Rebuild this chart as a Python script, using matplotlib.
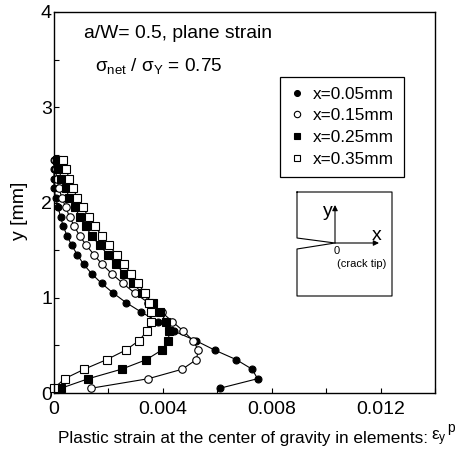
import matplotlib
matplotlib.use('Agg')
import matplotlib.pyplot as plt

plt.rcParams['font.family'] = ['Liberation Sans', 'DejaVu Sans']
plt.rcParams['mathtext.fontset'] = 'custom'
plt.rcParams['mathtext.rm'] = 'Liberation Sans'
plt.rcParams['mathtext.it'] = 'Liberation Sans'

y_levels = [0.05, 0.15, 0.25, 0.35, 0.45, 0.55, 0.65, 0.75, 0.85, 0.95, 1.05, 1.15, 1.25,
            1.35, 1.45, 1.55, 1.65, 1.75, 1.85, 1.95, 2.05, 2.15, 2.25, 2.35, 2.45]
x005 = [.00609, .00747, .00727, .00669, .0059, .0052, .0044, .0038, .0032, .00264, .00217, .00175,
        .00139, .00109, .00086, .00065, .00048, .00034, .00024, .00015, .00006, 0.0, 0.0, 0.0, 0.0]
x015 = [.00136, .00346, .00471, .00522, .0053, .0051, .00475, .00434, .00395, .00345, .00296, .00253,
        .00213, .00177, .00147, .00119, .00094, .00075, .00057, .00043, .00029, .00018, .0001, .00006, .00003]
x025 = [.00026, .00126, .00248, .00339, .00395, .0042, .00423, .00412, .00389, .00365, .00322, .00291,
        .00258, .00228, .00198, .00168, .00138, .00116, .00095, .00076, .00056, .00043, .00027, .00018, .00012]
x035 = [0.0, .00039, .00111, .00193, .00263, .00312, .00341, .00356, .00356, .00347, .00333, .00308,
        .00284, .00257, .0023, .00202, .00176, .0015, .00127, .00105, .00086, .00069, .00056, .00044, .00033]
labels = ['x=0.05mm', 'x=0.15mm', 'x=0.25mm', 'x=0.35mm']

fig = plt.figure(figsize=(4.56, 4.55), dpi=100)
ax = fig.add_axes([54 / 456, 1 - 393 / 455, 381.5 / 456, 381 / 455])

line_kw = dict(color='k', mec='k', mew=0.8, lw=0.8, clip_on=False)
ax.plot(x005, y_levels, '-o', mfc='k', ms=5.0, label=labels[0], **line_kw)
ax.plot(x015, y_levels, '-o', mfc='w', ms=5.4, label=labels[1], **line_kw)
ax.plot(x025, y_levels, '-s', mfc='k', ms=5.6, label=labels[2], **line_kw)
ax.plot(x035, y_levels, '-s', mfc='w', ms=5.6, label=labels[3], **line_kw)

ax.set_xlim(0, 0.014)
ax.set_ylim(0, 4)
ax.set_xticks([0, 0.004, 0.008, 0.012])
ax.set_xticklabels(['0', '0.004', '0.008', '0.012'])
ax.set_xticks([0.002, 0.006, 0.01, 0.014], minor=True)
ax.set_yticks([0, 1, 2, 3, 4])
ax.set_yticks([0.5, 1.5, 2.5, 3.5], minor=True)
ax.tick_params(which='both', direction='in', width=0.8, length=3.6, labelsize=14, pad=6)
ax.tick_params(axis='y', pad=1.5)
for s in ax.spines.values():
    s.set_linewidth(1.0)

ax.set_ylabel('y [mm]', fontsize=14)
ax.yaxis.set_label_coords((28 - 54) / 381.5, (393 - 211) / 381)
fig.text(58 / 456, 1 - 438 / 455, 'Plastic strain at the center of gravity in elements:',
         fontsize=12.3, va='center', ha='left')
fig.text(431 / 456, 1 - 438 / 455, '$\\epsilon_y$', fontsize=12.3, va='center', ha='left')
fig.text(447 / 456, 1 - 428 / 455, 'p', fontsize=10, va='center', ha='left')

fig.text(84 / 456, 1 - 34 / 455, 'a/W= 0.5, plane strain', fontsize=13.9, va='center')
fig.text(95 / 456, 1 - 66 / 455, '$\\sigma_{net}$ / $\\sigma_{Y}$ = 0.75', fontsize=13.7, va='center')

leg = ax.legend(loc='upper left', bbox_to_anchor=((280 - 54) / 381.5, (393 - 77) / 381), fontsize=12.4,
                frameon=True, fancybox=False, edgecolor='k', framealpha=1, borderaxespad=0,
                handletextpad=0.47, labelspacing=0.40, borderpad=0.55, handlelength=0.9,
                markerscale=0.85)
leg.get_frame().set_linewidth(0.9)
for h in leg.get_lines():
    h.set_linestyle('none')

# crack sketch, drawn in image pixels
sk = fig.add_axes([0, 0, 1, 1])
sk.set_xlim(0, 456)
sk.set_ylim(455, 0)
sk.axis('off')
sk.plot([297, 297, 335, 297, 297, 392, 392, 297], [192, 238, 243, 249, 296, 296, 192, 192], color='k', lw=0.8)
arrow = dict(arrowstyle='-|>', color='k', lw=0.8, mutation_scale=8, shrinkA=0, shrinkB=0)
sk.annotate('', xy=(335, 205), xytext=(335, 243), arrowprops=arrow)
sk.annotate('', xy=(379, 243), xytext=(335, 243), arrowprops=arrow)
sk.text(328, 211, 'y', fontsize=14, ha='center', va='center')
sk.text(377, 235, 'x', fontsize=14, ha='center', va='center')
sk.text(337, 251, '0', fontsize=8, ha='center', va='center')
sk.text(362, 264, '(crack tip)', fontsize=8, ha='center', va='center')

fig.savefig('out.png', dpi=100)
